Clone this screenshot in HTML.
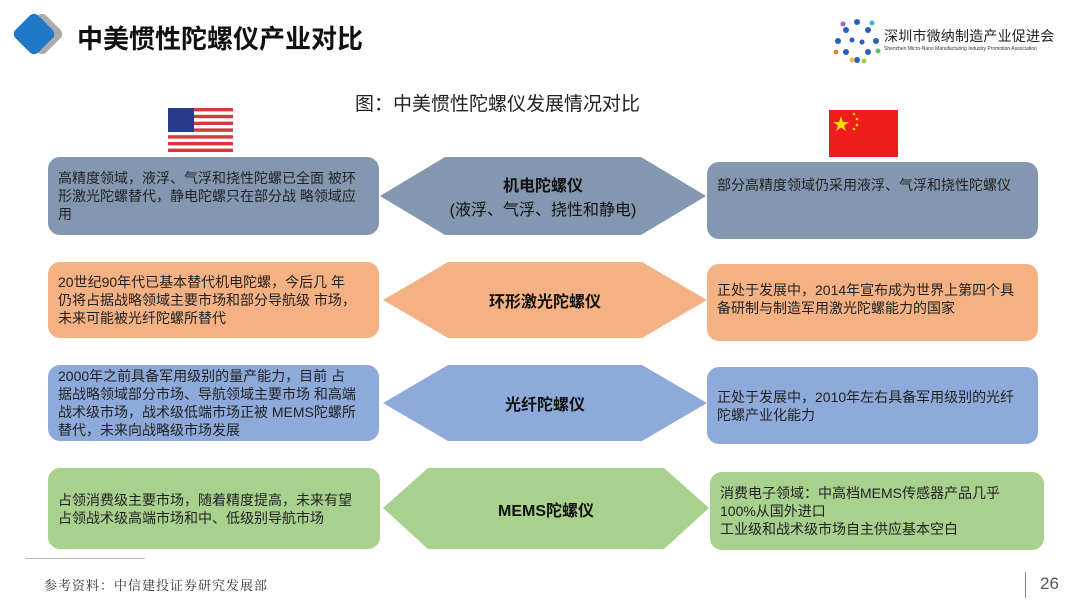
<!DOCTYPE html>
<html><head><meta charset="utf-8"><style>
body{margin:0;width:1080px;height:608px;background:#fff;position:relative;overflow:hidden;font-family:"Liberation Sans","Noto Sans CJK SC",sans-serif;}
.b{position:absolute;border-radius:12px;font-size:14px;line-height:18px;color:#222;box-sizing:border-box;padding:0 22px 0 10px;display:flex;align-items:center;}
.h{position:absolute;display:flex;align-items:center;justify-content:center;text-align:center;font-weight:bold;font-size:16px;color:#111;}
.h svg{position:absolute;left:0;top:0;}
.h span{position:relative}
</style></head><body>
<!-- header -->
<div style="position:absolute;top:18px;width:32px;height:32px;background:#aaa;transform:rotate(45deg);border-radius:6px;left:26px"></div>
<div style="position:absolute;left:18px;top:18px;width:32px;height:32px;background:#1e78c8;transform:rotate(45deg);border-radius:6px"></div>
<div style="position:absolute;left:77px;top:19px;font-size:26px;font-weight:bold;color:#111">中美惯性陀螺仪产业对比</div>
<svg style="position:absolute;left:832px;top:18px" width="50" height="46">
<g fill="#2a5fc0"><circle cx="25" cy="4" r="3"/><circle cx="14" cy="12" r="3"/><circle cx="36" cy="12" r="3"/><circle cx="6" cy="23" r="3"/><circle cx="44" cy="23" r="3"/><circle cx="14" cy="34" r="3"/><circle cx="36" cy="34" r="3"/><circle cx="25" cy="42" r="3"/><circle cx="20" cy="22" r="2.5"/><circle cx="30" cy="24" r="2.5"/></g>
<circle cx="11" cy="6" r="2.5" fill="#a060d0"/><circle cx="40" cy="5" r="2.5" fill="#40b0e0"/><circle cx="4" cy="34" r="2.5" fill="#f08030"/><circle cx="46" cy="33" r="2.5" fill="#60c060"/><circle cx="20" cy="42" r="2.5" fill="#f0c030"/><circle cx="32" cy="43" r="2.5" fill="#a0d040"/>
</svg>
<div style="position:absolute;left:884px;top:26px;font-size:14px;color:#222;letter-spacing:0.2px">深圳市微纳制造产业促进会</div>
<div style="position:absolute;left:884px;top:46px;font-size:5px;color:#333;white-space:nowrap">Shenzhen Micro-Nano Manufacturing Industry Promotion Association</div>
<div style="position:absolute;left:355px;top:89px;font-size:19px;color:#222">图：中美惯性陀螺仪发展情况对比</div>
<!-- flags -->
<svg style="position:absolute;left:168px;top:108px" width="65" height="44">
<rect width="65" height="44" fill="#fff"/>
<g fill="#d63a3a"><rect y="0" width="65" height="3.4"/><rect y="6.8" width="65" height="3.4"/><rect y="13.6" width="65" height="3.4"/><rect y="20.4" width="65" height="3.4"/><rect y="27.2" width="65" height="3.4"/><rect y="34" width="65" height="3.4"/><rect y="40.6" width="65" height="3.4"/></g>
<rect width="26" height="24" fill="#2a3a8a"/>
</svg>
<svg style="position:absolute;left:829px;top:110px" width="69" height="47">
<rect width="69" height="47" fill="#ee1c1c"/>
<polygon points="12,6 14,12 20,12 15,15.5 17,21 12,17.5 7,21 9,15.5 4,12 10,12" fill="#ffde00"/>
<g fill="#ffde00"><circle cx="25" cy="4" r="1.3"/><circle cx="28" cy="9" r="1.3"/><circle cx="28" cy="15" r="1.3"/><circle cx="25" cy="19" r="1.3"/></g>
</svg>
<!-- row1 -->
<div class="b" style="left:48px;top:157px;width:331px;height:78px;background:#8497b0">高精度领域，液浮、气浮和挠性陀螺已全面 被环形激光陀螺替代，静电陀螺只在部分战 略领域应用</div>
<div class="h" style="left:380px;top:157px;width:326px;height:78px;font-weight:normal"><svg width="326" height="78"><polygon points="0,39 65,0 261,0 326,39 261,78 65,78" fill="#8497b0"/></svg><span><b>机电陀螺仪</b><br>(液浮、气浮、挠性和静电)</span></div>
<div class="b" style="left:707px;top:162px;width:331px;height:77px;background:#8497b0;align-items:flex-start;padding-top:14px">部分高精度领域仍采用液浮、气浮和挠性陀螺仪</div>
<!-- row2 -->
<div class="b" style="left:48px;top:262px;width:331px;height:76px;background:#f4b183">20世纪90年代已基本替代机电陀螺，今后几 年仍将占据战略领域主要市场和部分导航级 市场，未来可能被光纤陀螺所替代</div>
<div class="h" style="left:383px;top:262px;width:324px;height:76px"><svg width="324" height="76"><polygon points="0,38 65,0 259,0 324,38 259,76 65,76" fill="#f4b183"/></svg><span>环形激光陀螺仪</span></div>
<div class="b" style="left:707px;top:264px;width:331px;height:77px;background:#f4b183;align-items:flex-start;padding-top:17px">正处于发展中，2014年宣布成为世界上第四个具备研制与制造军用激光陀螺能力的国家</div>
<!-- row3 -->
<div class="b" style="left:48px;top:365px;width:331px;height:76px;background:#8eaadb">2000年之前具备军用级别的量产能力，目前 占据战略领域部分市场、导航领域主要市场 和高端战术级市场，战术级低端市场正被 MEMS陀螺所替代，未来向战略级市场发展</div>
<div class="h" style="left:383px;top:365px;width:324px;height:76px"><svg width="324" height="76"><polygon points="0,38 65,0 259,0 324,38 259,76 65,76" fill="#8eaadb"/></svg><span>光纤陀螺仪</span></div>
<div class="b" style="left:707px;top:367px;width:331px;height:77px;background:#8eaadb">正处于发展中，2010年左右具备军用级别的光纤陀螺产业化能力</div>
<!-- row4 -->
<div class="b" style="left:48px;top:468px;width:332px;height:81px;background:#a9d18e">占领消费级主要市场，随着精度提高，未来有望占领战术级高端市场和中、低级别导航市场</div>
<div class="h" style="left:383px;top:468px;width:326px;height:81px"><svg width="326" height="81"><polygon points="0,40 45,0 281,0 326,40 281,81 45,81" fill="#a9d18e"/></svg><span>MEMS陀螺仪</span></div>
<div class="b" style="left:710px;top:472px;width:334px;height:78px;background:#a9d18e">消费电子领域：中高档MEMS传感器产品几乎100%从国外进口<br>工业级和战术级市场自主供应基本空白</div>
<!-- footer -->
<div style="position:absolute;left:25px;top:558px;width:120px;height:1px;background:#bbb"></div>
<div style="position:absolute;left:44px;top:575px;font-size:13px;color:#333;font-family:'Liberation Serif','Noto Serif CJK SC',serif;letter-spacing:1px">参考资料：中信建投证券研究发展部</div>
<div style="position:absolute;left:1025px;top:572px;width:1px;height:26px;background:#888"></div>
<div style="position:absolute;left:1040px;top:574px;font-size:17px;color:#555">26</div>
</body></html>
